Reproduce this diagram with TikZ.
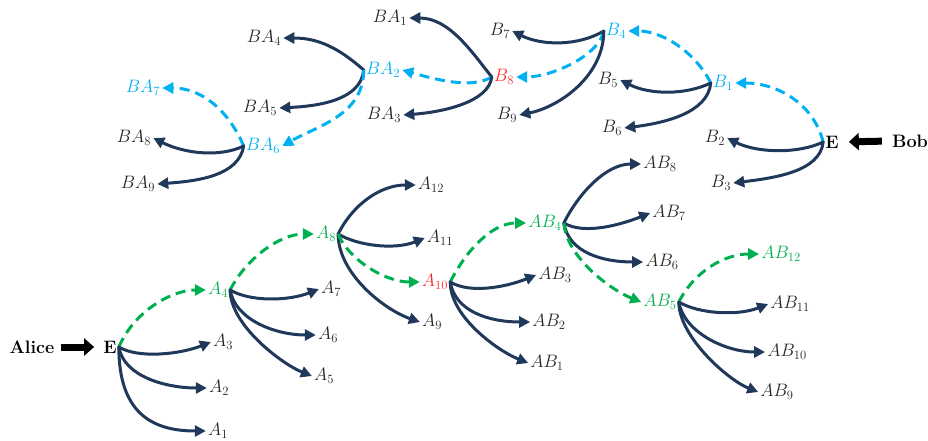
\RequirePackage{fix-cm}
\documentclass[tikz,border=0pt]{standalone}
\usetikzlibrary{arrows.meta}
\definecolor{navy}{RGB}{32,56,90}
\definecolor{skyb}{RGB}{0,176,240}
\definecolor{grn}{RGB}{0,176,80}
\definecolor{rd}{RGB}{255,40,40}
\begin{document}
\begin{tikzpicture}[x=1pt,y=-1pt,
 lbl/.style={inner sep=2pt, font=\fontsize{18}{20}\selectfont, text=black!85},
 bl/.style={lbl, text=skyb},
 gl/.style={lbl, text=grn},
 rl/.style={lbl, text=rd},
 bf/.style={lbl, text=black, font=\fontsize{18}{20}\selectfont\bfseries},
 solidarr/.style={draw=navy, line width=3pt, line cap=round, -{Triangle[length=11pt,width=11pt]}},
 dasharr/.style={line width=3pt, dash pattern=on 10pt off 6pt, -{Triangle[length=11pt,width=11pt]}},
 barr/.style={dasharr, draw=skyb},
 garr/.style={dasharr, draw=grn},
 fat/.style={draw=black, line width=7pt, -{Triangle[length=10pt,width=17pt]}}
]
\useasboundingbox (0,0) rectangle (928,441);
% top labels
\node[lbl] (BA4) at (264,38) {$BA_4$};
\node[bl]  (BA2) at (383,70) {$BA_2$};
\node[lbl] (BA5) at (260,108) {$BA_5$};
\node[bl]  (BA7) at (143,88) {$BA_7$};
\node[bl]  (BA6) at (263,146) {$BA_6$};
\node[lbl] (BA8) at (134,138) {$BA_8$};
\node[lbl] (BA9) at (138,184) {$BA_9$};
\node[lbl] (BA1) at (390,18) {$BA_1$};
\node[rl]  (B8) at (504,77) {$B_8$};
\node[lbl] (BA3) at (384,115) {$BA_3$};
\node[lbl] (B7) at (500,31) {$B_7$};
\node[bl]  (B4) at (616,31) {$B_4$};
\node[lbl] (B9) at (507,115) {$B_9$};
\node[lbl] (B5) at (608,80) {$B_5$};
\node[bl]  (B1) at (723,83) {$B_1$};
\node[lbl] (B6) at (612,128) {$B_6$};
\node[lbl] (B2) at (715,138) {$B_2$};
\node[lbl] (B3) at (721,183) {$B_3$};
\node[bf]  (ER) at (832,142) {E};
\node[bf]  (Bob) at (910,141) {Bob};
% bottom labels
\node[bf]  (Alice) at (32,347) {Alice};
\node[bf]  (EL) at (110,347) {E};
\node[lbl] (A3) at (223,342) {$A_3$};
\node[lbl] (A2) at (219,388) {$A_2$};
\node[lbl] (A1) at (218,431) {$A_1$};
\node[gl]  (A4) at (218,290) {$A_4$};
\node[lbl] (A7) at (331,289) {$A_7$};
\node[lbl] (A6) at (328,335) {$A_6$};
\node[lbl] (A5) at (324,376) {$A_5$};
\node[gl]  (A8) at (326,234) {$A_8$};
\node[lbl] (A12) at (431,185) {$A_{12}$};
\node[lbl] (A11) at (440,238) {$A_{11}$};
\node[lbl] (A9) at (432,322) {$A_9$};
\node[rl]  (A10) at (435,282) {$A_{10}$};
\node[lbl] (AB3) at (555,275) {$AB_3$};
\node[lbl] (AB2) at (549,322) {$AB_2$};
\node[lbl] (AB1) at (547,363) {$AB_1$};
\node[gl]  (AB4) at (545,223) {$AB_4$};
\node[lbl] (AB8) at (660,164) {$AB_8$};
\node[lbl] (AB7) at (669,213) {$AB_7$};
\node[lbl] (AB6) at (662,262) {$AB_6$};
\node[gl]  (AB5) at (660,302) {$AB_5$};
\node[gl]  (AB12) at (781,254) {$AB_{12}$};
\node[lbl] (AB11) at (790,304) {$AB_{11}$};
\node[lbl] (AB10) at (787,352) {$AB_{10}$};
\node[lbl] (AB9) at (777,392) {$AB_9$};
% top connectors
\draw[solidarr] (BA2.west) .. controls +(-25,-22) and +(35,0) .. (BA4.east);
\draw[solidarr] (BA2.west) .. controls +(-3,30) and +(40,-2) .. (BA5.east);
\draw[barr] (BA2.west) .. controls +(0,45) and +(35,-20) .. (BA6.east);
\draw[barr] (BA6.west) .. controls +(-15,-35) and +(40,0) .. (BA7.east);
\draw[solidarr] (BA6.west) .. controls +(-25,12) and +(30,15) .. (BA8.east);
\draw[solidarr] (BA6.west) .. controls +(-5,30) and +(40,-3) .. (BA9.east);
\draw[solidarr] (B8.west) .. controls +(-20,-25) and +(40,0) .. (BA1.east);
\draw[barr] (B8.west) .. controls +(-20,12) and +(35,10) .. (BA2.east);
\draw[solidarr] (B8.west) .. controls +(-3,25) and +(40,-3) .. (BA3.east);
\draw[solidarr] (B4.west) .. controls +(-25,15) and +(30,15) .. (B7.east);
\draw[barr] (B4.west) .. controls +(-5,25) and +(35,0) .. (B8.east);
\draw[solidarr] (B4.west) .. controls +(0,45) and +(40,-8) .. (B9.east);
\draw[barr] (B1.west) .. controls +(-15,-30) and +(35,0) .. (B4.east);
\draw[solidarr] (B1.west) .. controls +(-25,12) and +(30,15) .. (B5.east);
\draw[solidarr] (B1.west) .. controls +(-3,30) and +(40,-5) .. (B6.east);
\draw[barr] (ER.west) .. controls +(-10,-40) and +(40,0) .. (B1.east);
\draw[solidarr] (ER.west) .. controls +(-25,12) and +(30,15) .. (B2.east);
\draw[solidarr] (ER.west) .. controls +(-3,30) and +(40,-5) .. (B3.east);
% bottom connectors
\draw[garr] (EL.east) .. controls +(15,-35) and +(-35,0) .. (A4.west);
\draw[solidarr] (EL.east) .. controls +(20,12) and +(-30,12) .. (A3.west);
\draw[solidarr] (EL.east) .. controls +(5,30) and +(-40,0) .. (A2.west);
\draw[solidarr] (EL.east) .. controls +(0,65) and +(-55,0) .. (A1.west);
\draw[garr] (A4.east) .. controls +(15,-30) and +(-35,0) .. (A8.west);
\draw[solidarr] (A4.east) .. controls +(20,12) and +(-30,12) .. (A7.west);
\draw[solidarr] (A4.east) .. controls +(5,30) and +(-40,0) .. (A6.west);
\draw[solidarr] (A4.east) .. controls +(0,35) and +(-30,-12) .. (A5.west);
\draw[solidarr] (A8.east) .. controls +(15,-30) and +(-35,0) .. (A12.west);
\draw[solidarr] (A8.east) .. controls +(20,12) and +(-30,12) .. (A11.west);
\draw[solidarr] (A8.east) .. controls +(0,40) and +(-35,-12) .. (A9.west);
\draw[garr] (A8.east) .. controls +(10,25) and +(-35,0) .. (A10.west);
\draw[garr] (A10.east) .. controls +(15,-30) and +(-35,0) .. (AB4.west);
\draw[solidarr] (A10.east) .. controls +(20,12) and +(-30,12) .. (AB3.west);
\draw[solidarr] (A10.east) .. controls +(5,30) and +(-40,0) .. (AB2.west);
\draw[solidarr] (A10.east) .. controls +(0,35) and +(-30,-12) .. (AB1.west);
\draw[solidarr] (AB4.east) .. controls +(15,-30) and +(-35,0) .. (AB8.west);
\draw[solidarr] (AB4.east) .. controls +(20,12) and +(-30,12) .. (AB7.west);
\draw[solidarr] (AB4.east) .. controls +(5,30) and +(-40,0) .. (AB6.west);
\draw[garr] (AB4.east) .. controls +(3,35) and +(-30,-12) .. (AB5.west);
\draw[garr] (AB5.east) .. controls +(15,-30) and +(-35,0) .. (AB12.west);
\draw[solidarr] (AB5.east) .. controls +(20,12) and +(-30,12) .. (AB11.west);
\draw[solidarr] (AB5.east) .. controls +(5,30) and +(-40,0) .. (AB10.west);
\draw[solidarr] (AB5.east) .. controls +(0,35) and +(-30,-12) .. (AB9.west);
% Alice / Bob arrows
\draw[fat, shorten <=4pt, shorten >=7pt] (Alice.east) -- (EL.west);
\draw[fat, shorten <=8pt, shorten >=8pt] (Bob.west) -- (ER.east);
\end{tikzpicture}
\end{document}
